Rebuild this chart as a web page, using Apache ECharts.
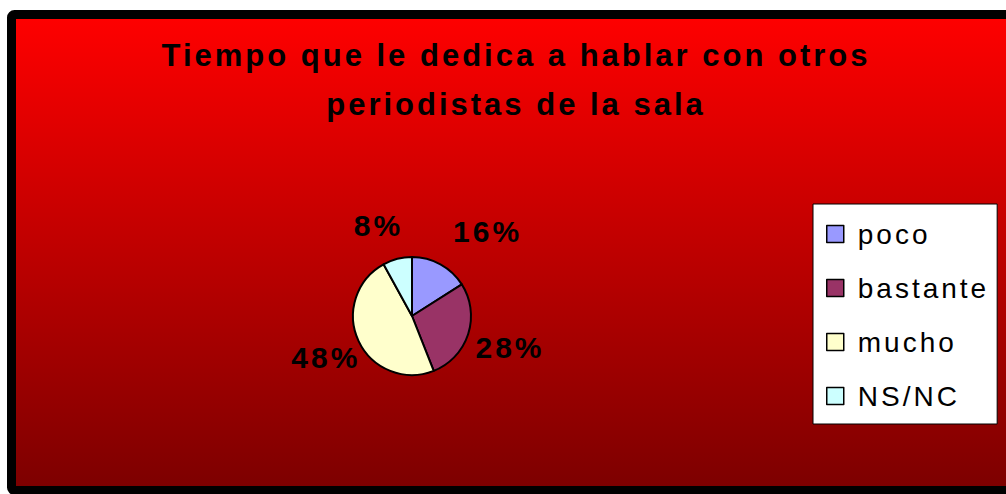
<!DOCTYPE html>
<html>
<head>
<meta charset="utf-8">
<script src="https://cdn.jsdelivr.net/npm/echarts@6/dist/echarts.min.js"></script>
<style>
  html, body { margin: 0; padding: 0; background: #fff; }
  #main { width: 1006px; height: 494px; }
  /* the original (Excel) text is drawn with wide letter spacing */
  #main svg text { letter-spacing: 3px; }
</style>
</head>
<body>
<div id="main"></div>
<script>
var titleText = 'Tiempo que le dedica a hablar con otros\nperiodistas de la sala';
var categories = ['poco', 'bastante', 'mucho', 'NS/NC'];
var values = [16, 28, 48, 8];
var colors = ['#9999FF', '#993366', '#FFFFCC', '#CCFFFF'];

var chart = echarts.init(document.getElementById('main'), null, { renderer: 'svg' });

var pieData = categories.map(function (name, i) {
    return { name: name, value: values[i], itemStyle: { color: colors[i] } };
});

// small label nudges, Excel does not put them exactly on the mid angle
var labelNudge = [[26, 6], [0, 0], [7, -2], [-8, 9]];

var option = {
    backgroundColor: '#ffffff',
    animation: false,
    graphic: [{
        type: 'rect',
        z: -10,
        shape: { x: 11.5, y: 14.5, width: 1010, height: 476, r: 3 },
        style: {
            fill: new echarts.graphic.LinearGradient(0, 0, 0, 1, [
                { offset: 0, color: '#ff0000' },
                { offset: 1, color: '#7c0000' }
            ]),
            stroke: '#000',
            lineWidth: 9
        },
        silent: true
    }],
    title: {
        text: titleText,
        left: 511,
        top: 26,
        textAlign: 'center',
        textStyle: {
            fontFamily: 'Liberation Sans',
            fontWeight: 'bold',
            fontSize: 31,
            lineHeight: 49,
            color: '#000'
        }
    },
    legend: {
        data: categories,
        orient: 'vertical',
        left: 813,
        top: 204,
        padding: [15, 32, 13, 13],
        backgroundColor: '#fff',
        borderColor: '#000',
        borderWidth: 1,
        itemWidth: 17,
        itemHeight: 17,
        itemGap: 24,
        icon: 'rect',
        itemStyle: { borderColor: '#000', borderWidth: 1.5 },
        textStyle: {
            fontFamily: 'Liberation Sans',
            fontSize: 28,
            lineHeight: 30,
            color: '#000',
            padding: [0, 0, 0, 9]
        }
    },
    series: [{
        type: 'pie',
        center: [412, 316],
        radius: 59,
        startAngle: 90,
        clockwise: true,
        label: { show: false },
        labelLine: { show: false },
        itemStyle: { borderColor: '#000', borderWidth: 2 },
        emphasis: { disabled: true },
        data: pieData
    }, {
        // invisible ring that carries the percentage labels
        type: 'pie',
        center: [412, 316],
        radius: [80, 120],
        startAngle: 90,
        clockwise: true,
        silent: true,
        itemStyle: { color: 'rgba(0,0,0,0)', borderWidth: 0 },
        label: {
            show: true,
            position: 'inside',
            formatter: '{c}%',
            fontFamily: 'Liberation Sans',
            fontWeight: 'bold',
            fontSize: 30,
            color: '#000'
        },
        labelLine: { show: false },
        labelLayout: function (params) {
            var n = labelNudge[params.dataIndex];
            return { dx: n[0], dy: n[1] };
        },
        emphasis: { disabled: true },
        data: categories.map(function (name, i) {
            return { name: name, value: values[i] };
        })
    }]
};

chart.setOption(option);
</script>
</body>
</html>
